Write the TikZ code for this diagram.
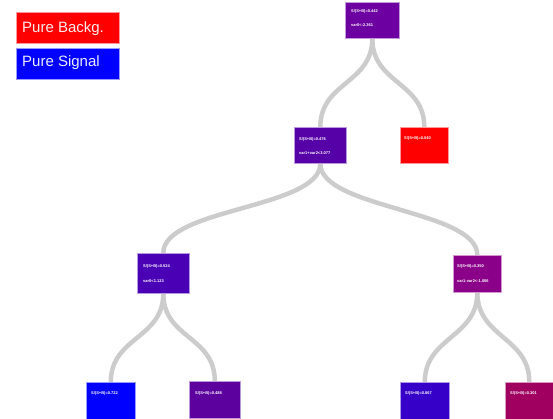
\documentclass[tikz,border=0pt]{standalone}
\usepackage{fontspec}
\setmainfont{Liberation Sans}
\usetikzlibrary{calc,backgrounds}
\definecolor{cRoot}{HTML}{6C00A0}
\definecolor{cA}{HTML}{5600A8}
\definecolor{cRed}{HTML}{FF0000}
\definecolor{cB}{HTML}{4A00B4}
\definecolor{cC}{HTML}{8A0088}
\definecolor{cL1}{HTML}{0000FF}
\definecolor{cL2}{HTML}{5C009E}
\definecolor{cL3}{HTML}{3600C8}
\definecolor{cL4}{HTML}{A00060}
\definecolor{edgeGray}{HTML}{CCCCCC}
\tikzset{
  treebox/.style={rectangle, draw=white!60!#1, line width=0.6pt, fill=#1, inner sep=0pt, anchor=north west},
  tinytext/.style={text=white, font=\fontsize{4}{4}\selectfont\bfseries, anchor=west, inner sep=0pt},
  legendbox/.style={rectangle, draw=white!60!#1, line width=0.6pt, fill=#1, inner sep=0pt, anchor=north west, minimum width=103pt, minimum height=31pt},
  legendtext/.style={text=white!92!#1, font=\fontsize{15}{15}\selectfont, anchor=west, inner sep=0pt},
  edge/.style={draw=edgeGray, line width=4.5pt}
}
\begin{document}
\begin{tikzpicture}[x=1pt,y=-1pt]
\useasboundingbox (0,0) rectangle (553,418);
% legend
\node[legendbox=cRed] (lgB) at (16,12) {};
\node[legendtext=cRed] (lgBt) at (22,29) {Pure Backg.};
\node[legendbox=cL1] (lgS) at (16,48) {};
\node[legendtext=cL1] (lgSt) at (22,63) {Pure Signal};
% boxes
\node[treebox=cRoot, minimum width=54pt, minimum height=36pt] (root) at (345,2) {};
\node[treebox=cA, minimum width=52pt, minimum height=36pt] (n1) at (294,127) {};
\node[treebox=cRed, minimum width=48pt, minimum height=36pt] (n2) at (400,127) {};
\node[treebox=cB, minimum width=52pt, minimum height=40pt] (n3) at (137,253) {};
\node[treebox=cC, minimum width=48pt, minimum height=37pt] (n4) at (453,255) {};
\node[treebox=cL1, minimum width=49pt, minimum height=37pt] (l1) at (86,382) {};
\node[treebox=cL2, minimum width=51pt, minimum height=37pt] (l2) at (189,381) {};
\node[treebox=cL3, minimum width=49pt, minimum height=37pt] (l3) at (400,382) {};
\node[treebox=cL4, minimum width=48pt, minimum height=37pt] (l4) at (505,382) {};
% edges
\begin{scope}[on background layer]
\draw[edge] (root.south) .. controls ($(root.south)+(0,45)$) and ($(n1.north)+(0,-45)$) .. (n1.north);
\draw[edge] (root.south) .. controls ($(root.south)+(0,45)$) and ($(n2.north)+(0,-45)$) .. (n2.north);
\draw[edge] (n1.south) .. controls ($(n1.south)+(0,45)$) and ($(n3.north)+(0,-45)$) .. (n3.north);
\draw[edge] (n1.south) .. controls ($(n1.south)+(0,45)$) and ($(n4.north)+(0,-45)$) .. (n4.north);
\draw[edge] (n3.south) .. controls ($(n3.south)+(0,45)$) and ($(l1.north)+(0,-45)$) .. (l1.north);
\draw[edge] (n3.south) .. controls ($(n3.south)+(0,45)$) and ($(l2.north)+(0,-45)$) .. (l2.north);
\draw[edge] (n4.south) .. controls ($(n4.south)+(0,45)$) and ($(l3.north)+(0,-45)$) .. (l3.north);
\draw[edge] (n4.south) .. controls ($(n4.south)+(0,45)$) and ($(l4.north)+(0,-45)$) .. (l4.north);
\end{scope}
% texts
\node[tinytext] (rootA) at (351,11) {S/(S+B)=0.442};
\node[tinytext] (rootB) at (351,25) {var0<-2.361};
\node[tinytext] (n1A) at (299,139) {S/(S+B)=0.476};
\node[tinytext] (n1B) at (299,153) {var1+var2<3.077};
\node[tinytext] (n2A) at (404,138) {S/(S+B)=0.040};
\node[tinytext] (n3A) at (143,266) {S/(S+B)=0.524};
\node[tinytext] (n3B) at (143,281) {var0<1.123};
\node[tinytext] (n4A) at (457,266) {S/(S+B)=0.350};
\node[tinytext] (n4B) at (457,281) {var1-var2<-1.006};
\node[tinytext] (l1A) at (91,393) {S/(S+B)=0.722};
\node[tinytext] (l2A) at (195,393) {S/(S+B)=0.488};
\node[tinytext] (l3A) at (405,393) {S/(S+B)=0.867};
\node[tinytext] (l4A) at (510,393) {S/(S+B)=0.301};
\end{tikzpicture}
\end{document}
